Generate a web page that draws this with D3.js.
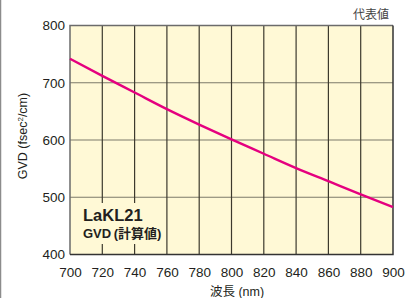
<!DOCTYPE html>
<html>
<head>
<meta charset="utf-8">
<script src="https://cdn.jsdelivr.net/npm/d3@7"></script>
<style>
  body { margin: 0; background: #fff; }
  text { font-family: "Liberation Sans", Arial, "Noto Sans CJK JP", sans-serif; }
</style>
</head>
<body>
<script>
// wavelength (nm) vs GVD
var wavelengths = [700, 720, 740, 760, 780, 800, 820, 840, 860, 880, 900];
var gvdValues = [742, 712, 683, 654, 627, 601, 576, 551, 528, 505, 483];
var xTicks = [700, 720, 740, 760, 780, 800, 820, 840, 860, 880, 900];
var yTicks = [400, 500, 600, 700, 800];

var W = 419, H = 298;
var margin = {left: 70, right: 26, top: 25.5, bottom: 43.5};

var svg = d3.select("body").append("svg")
  .attr("width", W)
  .attr("height", H);

// grey rule down the left edge of the figure
svg.append("line")
  .attr("x1", 0.5).attr("x2", 0.5)
  .attr("y1", 0).attr("y2", H)
  .attr("stroke", "#8c8c8c").attr("stroke-width", 1.5);

var x = d3.scaleLinear().domain([700, 900]).range([margin.left, W - margin.right]);
var y = d3.scaleLinear().domain([400, 800]).range([H - margin.bottom, margin.top]);

var g = svg.append("g");

g.append("rect")
  .attr("x", x(700)).attr("y", y(800))
  .attr("width", x(900) - x(700))
  .attr("height", y(400) - y(800))
  .attr("fill", "#fff9d6");

// horizontal grid
g.selectAll(".hgrid")
  .data(yTicks.slice(1, -1))
  .enter().append("line")
  .attr("x1", x(700)).attr("x2", x(900))
  .attr("y1", d => y(d)).attr("y2", d => y(d))
  .attr("stroke", "#7d7a6a").attr("stroke-width", 1.2);

// vertical grid
g.selectAll(".vgrid")
  .data(xTicks.slice(1, -1))
  .enter().append("line")
  .attr("x1", d => x(d)).attr("x2", d => x(d))
  .attr("y1", y(800)).attr("y2", y(400))
  .attr("stroke", "#3d3a2e").attr("stroke-width", 1.2);

// label box covers the grid
var label = svg.append("g");
var t1 = label.append("text")
  .attr("x", 83).attr("y", 221)
  .attr("font-size", 16.5).attr("font-weight", "bold")
  .attr("fill", "#231f20")
  .text("LaKL21");
var t2 = label.append("text")
  .attr("x", 83).attr("y", 238)
  .attr("font-size", 13).attr("font-weight", "bold")
  .attr("fill", "#231f20")
  .text("GVD\u2009(計算値)");
[t2, t1].forEach(function (t) {
  var b = t.node().getBBox();
  label.insert("rect", "text")
    .attr("x", b.x - 5).attr("y", b.y - 3)
    .attr("width", b.width + 8).attr("height", b.height + 6)
    .attr("fill", "#fff9d6");
});

// plot frame
g.append("path")
  .attr("d", "M" + x(700) + "," + y(400) + "V" + y(800) + "H" + x(900))
  .attr("fill", "none").attr("stroke", "#6b6b6b").attr("stroke-width", 1.5);
g.append("path")
  .attr("d", "M" + x(700) + "," + y(400) + "H" + x(900) + "V" + y(800))
  .attr("fill", "none").attr("stroke", "#333").attr("stroke-width", 1.5);

// curve
var line = d3.line()
  .x((d, i) => x(wavelengths[i]))
  .y(d => y(d))
  .curve(d3.curveMonotoneX);
svg.append("path")
  .datum(gvdValues)
  .attr("d", line)
  .attr("fill", "none")
  .attr("stroke", "#e5007f")
  .attr("stroke-width", 2.4);

// axes (labels only, the frame is drawn above)
var xAxis = svg.append("g")
  .attr("transform", "translate(0," + y(400) + ")")
  .call(d3.axisBottom(x).tickValues(xTicks).tickSize(0).tickPadding(13));
var yAxis = svg.append("g")
  .attr("transform", "translate(" + x(700) + ",0)")
  .call(d3.axisLeft(y).tickValues(yTicks).tickSize(0).tickPadding(5));
[xAxis, yAxis].forEach(function (a) {
  a.select(".domain").remove();
  a.selectAll("text")
    .attr("font-size", 13.5)
    .attr("fill", "#231f20")
    .style("font-family", "'Liberation Sans', Arial, sans-serif");
});

// titles
svg.append("text")
  .attr("x", 237).attr("y", 296)
  .attr("text-anchor", "middle")
  .attr("font-size", 12.5)
  .attr("fill", "#231f20")
  .text("波長 (nm)");

svg.append("text")
  .attr("transform", "translate(27,136) rotate(-90)")
  .attr("text-anchor", "middle")
  .attr("font-size", 12.5)
  .attr("fill", "#231f20")
  .html("GVD (fsec<tspan baseline-shift='super' font-size='8'>2</tspan>/cm)");

svg.append("text")
  .attr("x", 389).attr("y", 19)
  .attr("text-anchor", "end")
  .attr("font-size", 12)
  .attr("fill", "#444")
  .text("代表値");
</script>
</body>
</html>
